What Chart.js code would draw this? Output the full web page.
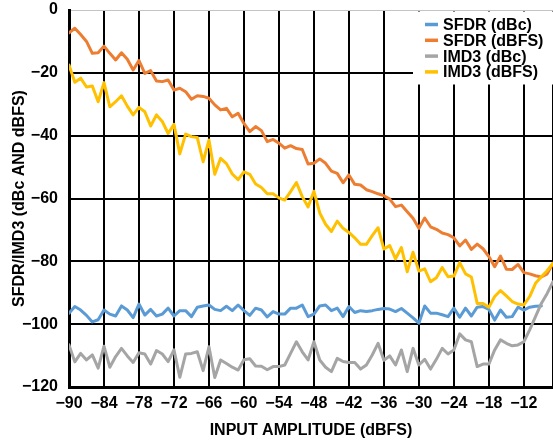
<!DOCTYPE html>
<html>
<head>
<meta charset="utf-8">
<script src="https://cdn.jsdelivr.net/npm/chart.js@4/dist/chart.umd.min.js"></script>
<style>
  html, body { margin: 0; padding: 0; background: #fff; }
  #wrap { width: 553px; height: 442px; }
</style>
</head>
<body>
<div id="wrap"><canvas id="chart" width="553" height="442"></canvas></div>
<script>
'use strict';

// input amplitude, dBFS (1 dB steps)
var amplitude = [-90, -89, -88, -87, -86, -85, -84, -83, -82, -81, -80, -79, -78, -77, -76, -75, -74, -73, -72, -71,
    -70, -69, -68, -67, -66, -65, -64, -63, -62, -61, -60, -59, -58, -57, -56, -55, -54, -53, -52, -51,
    -50, -49, -48, -47, -46, -45, -44, -43, -42, -41, -40, -39, -38, -37, -36, -35, -34, -33, -32, -31,
    -30, -29, -28, -27, -26, -25, -24, -23, -22, -21, -20, -19, -18, -17, -16, -15, -14, -13, -12, -11,
    -10, -9, -8, -7];

var sfdrDbc = [-96.5, -94.4, -95.5, -97.2, -99.3, -98.6, -95.5, -96.8, -97.4, -94.2, -95.5, -97.9, -93.6, -97.1, -95.3, -97.4, -96.8, -94.9, -97.4, -95.7,
    -95.7, -97.6, -94.6, -94.2, -93.9, -95.3, -95.7, -94.3, -95.7, -93.9, -95.7, -97.2, -94.9, -95.5, -97.7, -96.0, -96.8, -96.8, -94.9, -94.9,
    -93.9, -97.6, -96.8, -94.2, -93.9, -95.7, -94.9, -97.6, -94.4, -96.3, -95.7, -96.0, -95.7, -95.3, -95.0, -95.2, -96.0, -95.0, -96.5, -98.0,
    -99.7, -94.2, -96.5, -96.5, -97.0, -97.6, -94.9, -97.8, -94.9, -97.4, -94.6, -94.4, -95.3, -98.7, -95.5, -97.8, -97.6, -94.6, -95.5, -94.6,
    -94.3, -94.2, null, null];

var sfdrDbfs = [-7.3, -5.8, -7.8, -10.0, -13.8, -13.6, -11.5, -13.8, -15.9, -13.6, -15.7, -19.1, -16.1, -20.2, -19.3, -22.6, -22.8, -22.3, -25.5, -24.9,
    -26.0, -28.4, -27.3, -27.5, -28.1, -30.2, -31.8, -31.3, -34.0, -32.9, -36.1, -38.7, -37.1, -38.4, -41.9, -41.2, -42.4, -44.0, -43.2, -44.1,
    -44.4, -49.0, -48.8, -47.4, -48.8, -51.3, -52.0, -55.0, -52.5, -55.5, -55.7, -57.2, -57.8, -58.5, -59.1, -60.2, -62.6, -62.1, -64.2, -66.3,
    -69.5, -66.2, -69.0, -69.8, -71.0, -71.5, -72.5, -75.1, -73.2, -76.2, -74.5, -76.0, -78.5, -81.7, -78.3, -82.5, -82.6, -81.0, -83.6, -84.0,
    -84.6, -85.0, -84.0, -80.6];

var imd3Dbc = [-106.6, -112.0, -109.3, -111.4, -109.8, -114.0, -107.0, -113.7, -110.3, -107.7, -110.1, -112.2, -109.1, -109.5, -112.7, -108.4, -109.5, -111.9, -108.2, -116.9,
    -109.5, -109.3, -108.8, -114.8, -107.2, -117.0, -111.4, -112.5, -113.7, -114.6, -111.3, -111.0, -113.3, -113.4, -114.5, -113.5, -113.5, -113.0, -109.3, -105.6,
    -108.8, -111.4, -105.6, -111.4, -113.7, -115.1, -110.9, -111.9, -112.2, -112.2, -114.3, -113.0, -109.8, -106.1, -111.5, -110.1, -113.0, -108.2, -115.1, -107.7,
    -113.0, -111.2, -114.3, -111.2, -107.7, -109.5, -108.2, -103.1, -105.0, -105.6, -113.5, -112.7, -112.7, -108.2, -105.0, -106.1, -106.9, -106.6, -105.6, -101.8,
    -97.6, -93.4, -90.2, -86.5];

var imd3Dbfs = [-17.5, -23.0, -21.7, -24.5, -24.2, -29.2, -23.1, -30.8, -29.2, -27.3, -30.6, -33.4, -31.0, -32.4, -36.9, -33.4, -35.5, -39.3, -36.4, -45.8,
    -39.5, -40.3, -40.6, -48.3, -41.4, -52.3, -47.2, -48.9, -52.2, -54.0, -51.5, -52.3, -55.4, -56.5, -58.5, -58.5, -59.8, -60.5, -57.8, -54.9,
    -59.4, -62.7, -57.7, -64.6, -68.2, -70.5, -67.2, -69.5, -70.8, -72.5, -74.6, -74.6, -71.8, -69.3, -76.1, -75.0, -79.2, -75.6, -83.3, -77.1,
    -83.1, -82.4, -86.5, -85.2, -82.0, -84.9, -84.7, -80.4, -84.0, -85.0, -93.4, -93.4, -94.6, -91.2, -89.3, -91.0, -92.8, -93.6, -93.9, -91.2,
    -87.0, -84.9, -83.0, -80.6];

var xTicks = [-90, -84, -78, -72, -66, -60, -54, -48, -42, -36, -30, -24, -18, -12];
var yTicks = [0, -20, -40, -60, -80, -100, -120];

var seriesNames = ['SFDR (dBc)', 'SFDR (dBFS)', 'IMD3 (dBc)', 'IMD3 (dBFS)'];
var seriesColors = ['#5B9BD5', '#ED7D31', '#A5A5A5', '#FFC000'];

var FONT = '"Liberation Sans", Arial, sans-serif';

var toPoints = function(values) {
    return values.map(function(v, i) {
        return {x: amplitude[i], y: v};
    });
};

var minus = function(v) {
    return v < 0 ? '\u2212' + Math.abs(v) : String(v);
};

// legend drawn inside the plot, top right, on a white box
var insideLegend = {
    id: 'insideLegend',
    afterDatasetsDraw: function(chart) {
        var ctx = chart.ctx;
        var area = chart.chartArea;
        ctx.save();
        ctx.fillStyle = '#fff';
        ctx.fillRect(413, area.top + 1.5, area.right - 413, 73);
        ctx.font = 'bold 16px ' + FONT;
        ctx.textBaseline = 'middle';
        ctx.textAlign = 'left';
        for (var i = 0; i < seriesNames.length; i++) {
            var y = area.top + 14.5 + i * 15.8;
            ctx.strokeStyle = seriesColors[i];
            ctx.lineWidth = 3.5;
            ctx.beginPath();
            ctx.moveTo(425, y);
            ctx.lineTo(438, y);
            ctx.stroke();
            ctx.fillStyle = '#000';
            ctx.fillText(seriesNames[i], 443, y + 1);
        }
        ctx.restore();
    }
};

var allSeries = [sfdrDbc, sfdrDbfs, imd3Dbc, imd3Dbfs];
var datasets = allSeries.map(function(values, i) {
    return {
        label: seriesNames[i],
        data: toPoints(values),
        borderColor: seriesColors[i],
        backgroundColor: seriesColors[i],
        borderWidth: 3,
        pointRadius: 0,
        tension: 0,
        borderJoinStyle: 'round',
        borderCapStyle: 'round',
        order: 3 - i
    };
});

new Chart(document.getElementById('chart'), {
    type: 'line',
    data: {datasets: datasets},
    plugins: [insideLegend],
    options: {
        responsive: false,
        animation: false,
        devicePixelRatio: 1,
        layout: {padding: 0},
        plugins: {
            legend: {display: false},
            tooltip: {enabled: false}
        },
        scales: {
            x: {
                type: 'linear',
                min: -90,
                max: -7,
                afterBuildTicks: function(scale) {
                    scale.ticks = xTicks.concat([-7]).map(function(v) { return {value: v}; });
                },
                afterFit: function(scale) {
                    scale.height = 55;
                    scale.paddingRight = 0;
                },
                grid: {
                    color: '#000',
                    lineWidth: 2,
                    drawTicks: false
                },
                border: {color: '#000', width: 3},
                ticks: {
                    autoSkip: false,
                    maxRotation: 0,
                    padding: 7,
                    color: '#000',
                    font: {family: FONT, size: 16, weight: 'bold'},
                    callback: function(value) {
                        return value === -7 ? '' : minus(value);
                    }
                },
                title: {
                    display: true,
                    text: 'INPUT AMPLITUDE (dBFS)',
                    color: '#000',
                    font: {family: FONT, size: 16, weight: 'bold'},
                    padding: {top: 0, bottom: 2}
                }
            },
            y: {
                min: -120,
                max: 0,
                afterBuildTicks: function(scale) {
                    scale.ticks = yTicks.map(function(v) { return {value: v}; });
                },
                afterFit: function(scale) {
                    scale.width = 69;
                    scale.paddingTop = 10;
                    scale.paddingBottom = 0;
                },
                grid: {
                    color: function(c) {
                        return c.tick && c.tick.value === 0 ? '#c4c4c4' : '#000';
                    },
                    lineWidth: function(c) {
                        return c.tick && c.tick.value === 0 ? 1 : 2;
                    },
                    drawTicks: false
                },
                border: {color: '#000', width: 3},
                ticks: {
                    padding: 11,
                    color: '#000',
                    font: {family: FONT, size: 16, weight: 'bold'},
                    callback: function(value) {
                        return minus(value);
                    }
                },
                title: {
                    display: true,
                    text: 'SFDR/IMD3 (dBc AND dBFS)',
                    color: '#000',
                    font: {family: FONT, size: 16, weight: 'bold'},
                    padding: {top: 10, bottom: 0}
                }
            }
        }
    }
});
</script>
</body>
</html>
